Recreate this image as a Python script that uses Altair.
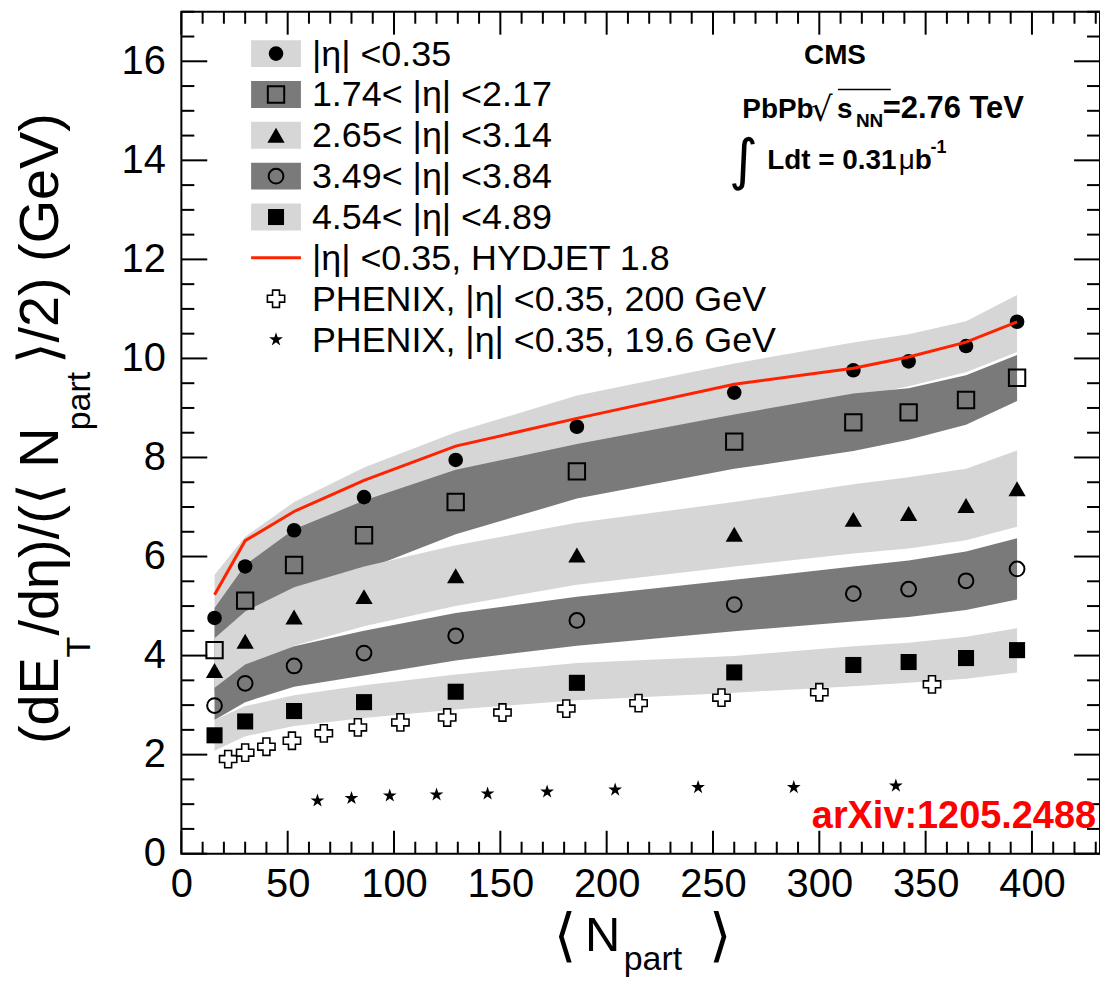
import math
import altair as alt
import pandas as pd

# ---------------- data ----------------
npart = [15.6, 30.0, 53.0, 85.9, 129.0, 186.0, 260.0, 316.0, 342.0, 369.0, 393.0]
et_eta0 = [4.76, 5.80, 6.53, 7.20, 7.95, 8.62, 9.31, 9.76, 9.94, 10.25, 10.74]
et_eta1 = [4.11, 5.11, 5.83, 6.43, 7.10, 7.72, 8.32, 8.71, 8.91, 9.16, 9.61]
et_eta2 = [3.70, 4.29, 4.78, 5.19, 5.61, 6.03, 6.45, 6.75, 6.87, 7.03, 7.37]
et_eta3 = [2.99, 3.44, 3.79, 4.05, 4.40, 4.71, 5.03, 5.25, 5.34, 5.51, 5.75]
et_eta4 = [2.39, 2.67, 2.88, 3.06, 3.27, 3.45, 3.66, 3.81, 3.87, 3.95, 4.11]
hydjet = [5.23, 6.32, 6.91, 7.54, 8.23, 8.79, 9.48, 9.80, 10.03, 10.33, 10.74]

band0_lo = [3.90, 5.20, 5.96, 6.60, 7.39, 8.01, 8.72, 9.20, 9.44, 9.72, 10.13]
band0_hi = [5.63, 6.40, 7.10, 7.80, 8.51, 9.25, 9.90, 10.32, 10.49, 10.75, 11.28]
band1_lo = [3.26, 4.39, 5.11, 5.73, 6.45, 7.17, 7.77, 8.13, 8.36, 8.66, 9.14]
band1_hi = [4.96, 5.83, 6.55, 7.13, 7.75, 8.27, 8.87, 9.29, 9.40, 9.66, 10.07]
band2_lo = [3.05, 3.70, 4.20, 4.59, 5.00, 5.43, 5.80, 6.06, 6.16, 6.33, 6.60]
band2_hi = [4.35, 4.89, 5.38, 5.80, 6.23, 6.68, 7.10, 7.46, 7.60, 7.77, 8.14]
band3_lo = [2.70, 3.06, 3.37, 3.60, 3.90, 4.20, 4.49, 4.69, 4.78, 4.92, 5.13]
band3_hi = [3.35, 3.82, 4.19, 4.50, 4.86, 5.19, 5.53, 5.80, 5.92, 6.10, 6.37]
band4_lo = [2.08, 2.37, 2.58, 2.74, 2.91, 3.10, 3.25, 3.38, 3.45, 3.53, 3.66]
band4_hi = [2.70, 2.98, 3.20, 3.40, 3.62, 3.85, 3.99, 4.19, 4.26, 4.38, 4.55]

phenix200_x = [22, 30, 40, 52, 67, 83, 103, 125, 151, 181, 215, 254, 300, 353]
phenix200_y = [1.91, 2.04, 2.16, 2.28, 2.43, 2.55, 2.65, 2.75, 2.85, 2.93, 3.04, 3.15, 3.26, 3.42]
phenix19_x = [64, 80, 98, 120, 144, 172, 204, 243, 288, 336]
phenix19_y = [1.07, 1.12, 1.17, 1.19, 1.21, 1.25, 1.29, 1.34, 1.34, 1.37]

x_major = list(range(0, 401, 50))
x_minor = [v for v in range(10, 431, 10) if v % 50]
y_major = list(range(0, 17, 2))
y_minor = [v / 2 for v in range(1, 35) if v % 4]

legend_labels = [
    "|η| <0.35",
    "1.74< |η| <2.17",
    "2.65< |η| <3.14",
    "3.49< |η| <3.84",
    "4.54< |η| <4.89",
    "|η| <0.35, HYDJET 1.8",
    "PHENIX, |η| <0.35, 200 GeV",
    "PHENIX, |η| <0.35, 19.6 GeV",
]

# ---------------- style ----------------
W, H = 922, 845
FONT = "Liberation Sans"
LIGHT = "#d6d6d6"
DARK = "#7a7a7a"
RED = "#ff2200"

pts_star = []
for k in range(10):
    r = 1.0 if k % 2 == 0 else 0.382
    a = math.radians(-90 + 36 * k)
    pts_star.append(f"{r * math.cos(a):.3f},{r * math.sin(a):.3f}")
STAR = "M" + "L".join(pts_star) + "Z"

xs = alt.Scale(domain=[0, 432], nice=False, zero=False)
ys = alt.Scale(domain=[0, 17], nice=False, zero=False)
xax = alt.Axis(values=x_major, ticks=False, domain=False, grid=False, labelFont=FONT,
               labelFontSize=40, labelPadding=11, labelColor="black", labelFlush=False,
               labelOverlap=False, title=None)
yax = alt.Axis(values=y_major, ticks=False, domain=False, grid=False, labelFont=FONT,
               labelFontSize=40, labelPadding=16, labelColor="black", labelFlush=False,
               labelOverlap=False, title=None)

MARKERS = {
    "fcircle": dict(shape="circle", filled=True, color="black", size=215),
    "osquare": dict(shape="square", filled=False, color="black", strokeWidth=2, size=270),
    "ftriangle": dict(shape="triangle-up", filled=True, color="black", size=300),
    "ocircle": dict(shape="circle", filled=False, color="black", strokeWidth=2, size=220),
    "fsquare": dict(shape="square", filled=True, color="black", size=260),
    "cross": dict(shape="cross", filled=True, fill="white", stroke="black", strokeWidth=1.6, size=300),
    "star": dict(shape=STAR, filled=True, color="black", size=210),
}

one = pd.DataFrame({"a": [0]})
layers = []

# bands
for lo, hi, col in [(band0_lo, band0_hi, LIGHT), (band1_lo, band1_hi, DARK),
                    (band2_lo, band2_hi, LIGHT), (band3_lo, band3_hi, DARK),
                    (band4_lo, band4_hi, LIGHT)]:
    df = pd.DataFrame({"x": npart, "lo": lo, "hi": hi})
    layers.append(alt.Chart(df).mark_area(color=col, opacity=1).encode(
        x=alt.X("x:Q", scale=xs, axis=xax),
        y=alt.Y("lo:Q", scale=ys, axis=yax),
        y2="hi:Q"))

def pts(xv, yv, key):
    df = pd.DataFrame({"x": xv, "y": yv})
    return alt.Chart(df).mark_point(opacity=1, **MARKERS[key]).encode(
        x=alt.X("x:Q", scale=xs, axis=xax), y=alt.Y("y:Q", scale=ys, axis=yax))

layers += [
    pts(npart, et_eta0, "fcircle"),
    pts(npart, et_eta1, "osquare"),
    pts(npart, et_eta2, "ftriangle"),
    pts(npart, et_eta3, "ocircle"),
    pts(npart, et_eta4, "fsquare"),
    pts(phenix200_x, phenix200_y, "cross"),
    pts(phenix19_x, phenix19_y, "star"),
]

layers.append(alt.Chart(pd.DataFrame({"x": npart, "y": hydjet})).mark_line(
    color=RED, strokeWidth=3).encode(
    x=alt.X("x:Q", scale=xs, axis=xax), y=alt.Y("y:Q", scale=ys, axis=yax)))

# frame ticks (inward, on all four sides)
def xticks(vals, ln):
    df = pd.DataFrame({"v": vals})
    bot = alt.Chart(df).mark_rule(color="black", strokeWidth=2).encode(
        x=alt.X("v:Q", scale=xs, axis=xax), y=alt.value(H), y2=alt.value(H - ln))
    top = alt.Chart(df).mark_rule(color="black", strokeWidth=2).encode(
        x=alt.X("v:Q", scale=xs, axis=xax), y=alt.value(0), y2=alt.value(ln))
    return [bot, top]

def yticks(vals, ln):
    df = pd.DataFrame({"v": vals})
    left = alt.Chart(df).mark_rule(color="black", strokeWidth=2).encode(
        y=alt.Y("v:Q", scale=ys, axis=yax), x=alt.value(0), x2=alt.value(ln))
    right = alt.Chart(df).mark_rule(color="black", strokeWidth=2).encode(
        y=alt.Y("v:Q", scale=ys, axis=yax), x=alt.value(W), x2=alt.value(W - ln))
    return [left, right]

layers += xticks(x_major, 23) + xticks(x_minor, 12) + yticks(y_major, 26) + yticks(y_minor, 13)

# legend
row_y = [42 + 41 * i for i in range(8)]
row_kind = ["fcircle", "osquare", "ftriangle", "ocircle", "fsquare", "line", "cross", "star"]
row_box = [LIGHT, DARK, LIGHT, DARK, LIGHT, None, None, None]
for cy, kind, box, lab in zip(row_y, row_kind, row_box, legend_labels):
    if box:
        layers.append(alt.Chart(one).mark_rect(color=box).encode(
            x=alt.value(70), x2=alt.value(120), y=alt.value(cy - 13.5), y2=alt.value(cy + 13.5)))
    if kind == "line":
        layers.append(alt.Chart(one).mark_rule(color=RED, strokeWidth=3).encode(
            x=alt.value(70), x2=alt.value(120), y=alt.value(cy)))
    else:
        layers.append(alt.Chart(one).mark_point(opacity=1, **MARKERS[kind]).encode(
            x=alt.value(95), y=alt.value(cy)))
    layers.append(alt.Chart(one).mark_text(text=lab, font=FONT, fontSize=36, align="left",
                                           baseline="middle", color="black").encode(
        x=alt.value(131), y=alt.value(cy + 1)))

def label(t, x, y, size, weight="normal", align="left", baseline="alphabetic",
          color="black", angle=0, font=FONT):
    return alt.Chart(one).mark_text(text=t, font=font, fontSize=size, fontWeight=weight,
                                    align=align, baseline=baseline, color=color,
                                    angle=angle).encode(x=alt.value(x), y=alt.value(y))

# annotations
layers += [
    label("CMS", 656, 44, 28, "bold", "center", "middle"),
    label("PbPb", 563, 107, 28, "bold"),
    label("√", 632, 110, 34, "normal", font="DejaVu Sans"),
    label("s", 658, 107, 28, "bold"),
    label("NN", 677, 116, 19, "bold"),
    label("=2.76 TeV", 704, 107, 31, "bold"),
    label("∫", 564, 168, 56, "normal", "center", font="DejaVu Sans"),
    label("Ldt = 0.31", 588, 158, 28, "bold"),
    label("μ", 720, 158, 28, "normal"),
    label("b", 736, 158, 28, "bold"),
    label("-1", 752, 142, 18, "bold"),
    label("arXiv:1205.2488", 918, 808, 38, "bold", "right", "middle", color="#ff0000"),
]
layers.append(alt.Chart(one).mark_rule(color="black", strokeWidth=1.5).encode(
    x=alt.value(659), x2=alt.value(712), y=alt.value(78)))

# axis titles
layers += [
    label("(dE", -124, 735, 56, angle=270),
    label("T", -92, 648, 34, angle=270),
    label("/dη)/(⟨ N", -124, 626, 56, angle=270),
    label("part", -92, 420, 34, angle=270),
    label("⟩/2) (GeV)", -124, 354, 56, angle=270),
    label("⟨", 385, 930, 58, "normal", "center", "middle", font="DejaVu Sans"),
    label("N", 405, 943, 49),
    label("part", 444, 962, 34),
    label("⟩", 541, 930, 58, "normal", "center", "middle", font="DejaVu Sans"),
]

chart = alt.layer(*layers).properties(
    width=W, height=H,
    padding={"left": 174, "top": 2, "right": 0, "bottom": 123},
    autosize=alt.AutoSizeParams(type="none"),
    background="white",
).configure_view(stroke="black", strokeWidth=2)

chart.save("out.html", embed_options={"renderer": "svg", "actions": False})
